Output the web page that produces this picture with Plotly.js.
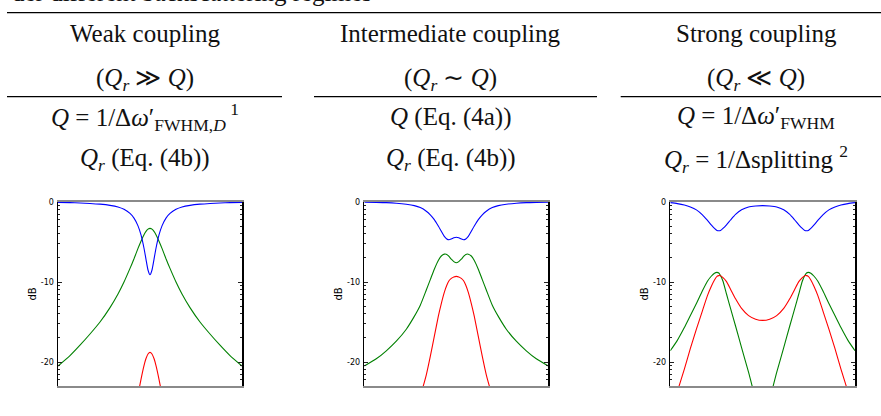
<!DOCTYPE html>
<html>
<head>
<meta charset="utf-8">
<script src="https://cdn.plot.ly/plotly-3.0.1.min.js"></script>
<style>html,body{margin:0;padding:0;background:#fff;}#chart{width:881px;height:416px;}</style>
</head>
<body>
<div id="chart"></div>
<script>
// ---------- Data (detuning in arbitrary units, power in dB) ----------
// Panel 1: weak coupling
const x1 = [-92,-80,-70,-60,-50,-40,-32,-26,-20,-16,-12,-9,-6,-4,-2,0,2,4,6,9,12,16,20,26,32,40,50,60,70,80,92];
const blue1 = [-0.05,-0.08,-0.12,-0.18,-0.27,-0.42,-0.63,-0.92,-1.43,-2.01,-2.98,-4.12,-5.78,-7.17,-8.5,-9.1,-8.5,-7.17,-5.78,-4.12,-2.98,-2.01,-1.43,-0.92,-0.63,-0.42,-0.27,-0.18,-0.12,-0.08,-0.05];
const green1 = [-20.5,-19.2,-17.9,-16.5,-15.0,-13.2,-11.5,-10.0,-8.3,-7.1,-5.8,-4.9,-4.08,-3.67,-3.39,-3.3,-3.39,-3.67,-4.08,-4.9,-5.8,-7.1,-8.3,-10.0,-11.5,-13.2,-15.0,-16.5,-17.9,-19.2,-20.5];
const red1 = [-52.8,-50.5,-48.2,-45.6,-42.7,-39,-35.7,-32.7,-29.2,-26.7,-24.1,-22.16,-20.45,-19.57,-19.0,-18.8,-19.0,-19.57,-20.45,-22.16,-24.1,-26.7,-29.2,-32.7,-35.7,-39,-42.7,-45.6,-48.2,-50.5,-52.8];

// Panel 2: intermediate coupling
const x2 = [-92,-80,-70,-60,-50,-42,-36,-30,-26,-22,-18,-15,-12,-9.5,-7.3,-5,-2.5,0,2.5,5,7.3,9.5,12,15,18,22,26,30,36,42,50,60,70,80,92];
const blue2 = [-0.03,-0.05,-0.08,-0.15,-0.28,-0.45,-0.7,-1.15,-1.6,-2.2,-3.0,-3.65,-4.3,-4.62,-4.72,-4.62,-4.47,-4.4,-4.47,-4.62,-4.72,-4.62,-4.3,-3.65,-3.0,-2.2,-1.6,-1.15,-0.7,-0.45,-0.28,-0.15,-0.08,-0.05,-0.03];
const green2 = [-20.5,-19.6,-18.6,-17.4,-15.9,-14.3,-12.9,-11.0,-9.7,-8.4,-7.3,-6.75,-6.52,-6.55,-6.8,-7.15,-7.45,-7.6,-7.45,-7.15,-6.8,-6.55,-6.52,-6.75,-7.3,-8.4,-9.7,-11.0,-12.9,-14.3,-15.9,-17.4,-18.6,-19.6,-20.5];
const red2 = [-41,-38.5,-36,-33,-30,-26.8,-24.3,-21.6,-19.3,-16.8,-14.3,-12.7,-11.3,-10.4,-9.85,-9.55,-9.37,-9.3,-9.37,-9.55,-9.85,-10.4,-11.3,-12.7,-14.3,-16.8,-19.3,-21.6,-24.3,-26.8,-30,-33,-36,-38.5,-41];

// Panel 3: strong coupling
const x3 = [-92,-85,-78,-72,-66,-60,-55,-51,-48,-45.5,-43.7,-42,-39.5,-36,-32,-27,-21,-14,-7,0,7,14,21,27,32,36,39.5,42,43.7,45.5,48,51,55,60,66,72,78,85,92];
const blue3 = [-0.08,-0.2,-0.38,-0.62,-0.98,-1.6,-2.3,-2.9,-3.3,-3.55,-3.6,-3.56,-3.3,-2.85,-2.25,-1.55,-0.98,-0.62,-0.5,-0.45,-0.5,-0.62,-0.98,-1.55,-2.25,-2.85,-3.3,-3.56,-3.6,-3.55,-3.3,-2.9,-2.3,-1.6,-0.98,-0.62,-0.38,-0.2,-0.08];
const green3 = [-18.6,-17.3,-15.7,-14.2,-12.7,-11.1,-9.9,-9.25,-8.9,-8.8,-8.88,-9.2,-9.9,-11.5,-13.3,-15.5,-18.2,-21.3,-24.5,-26,-24.5,-21.3,-18.2,-15.5,-13.3,-11.5,-9.9,-9.2,-8.88,-8.8,-8.9,-9.25,-9.9,-11.1,-12.7,-14.2,-15.7,-17.3,-18.6];
const red3 = [-26.5,-23.7,-20.9,-18.3,-15.9,-13.6,-11.7,-10.5,-9.75,-9.3,-9.2,-9.22,-9.45,-9.95,-10.9,-12.1,-13.3,-14.2,-14.65,-14.8,-14.65,-14.2,-13.3,-12.1,-10.9,-9.95,-9.45,-9.22,-9.2,-9.3,-9.75,-10.5,-11.7,-13.6,-15.9,-18.3,-20.9,-23.7,-26.5];

// Tick labels
const yTickVals = [0, -10, -20];
const yTickText = ['0', '-10', '-20'];

// Table text
const headers = ['Weak coupling', 'Intermediate coupling', 'Strong coupling'];
const regimes = ['(<i>Q</i><sub><i>r</i></sub> ≫ <i>Q</i>)', '(<i>Q</i><sub><i>r</i></sub> ∼ <i>Q</i>)', '(<i>Q</i><sub><i>r</i></sub> ≪ <i>Q</i>)'];
const qRow = ['<i>Q</i> = 1/Δ<i>ω</i>′<sub>FWHM,<i>D</i></sub><sup> 1</sup>', '<i>Q</i> (Eq. (4a))', '<i>Q</i> = 1/Δ<i>ω</i>′<sub>FWHM</sub>'];
const qrRow = ['<i>Q</i><sub><i>r</i></sub> (Eq. (4b))', '<i>Q</i><sub><i>r</i></sub> (Eq. (4b))', '<i>Q</i><sub><i>r</i></sub> = 1/Δsplitting <sup>2</sup>'];
const caption = 'der different backscattering regimes';

// ---------- Layout helpers ----------
const W = 881, H = 416;
const px = v => v / W;
const py = v => 1 - v / H;

// minor ticks at log positions (k x decade) expressed in dB
const minorVals = [];
[0, -10, -20].forEach(d => { for (let k = 2; k <= 9; k++) { const v = d - 10 + 10 * Math.log10(k); if (v >= -23) minorVals.push(v); } });

const colors = {blue: '#0000ff', green: '#008000', red: '#ff0000'};
function tr(x, y, c, n) {
  return {x: x, y: y, type: 'scatter', mode: 'lines', line: {color: c, width: 1.1, shape: 'spline', smoothing: 0.6},
          xaxis: 'x' + (n === 1 ? '' : n), yaxis: 'y' + (n === 1 ? '' : n), hoverinfo: 'skip', showlegend: false};
}
const data = [
  tr(x1, green1, colors.green, 1), tr(x1, red1, colors.red, 1), tr(x1, blue1, colors.blue, 1),
  tr(x2, green2, colors.green, 2), tr(x2, red2, colors.red, 2), tr(x2, blue2, colors.blue, 2),
  tr(x3, green3, colors.green, 3), tr(x3, red3, colors.red, 3), tr(x3, blue3, colors.blue, 3)
];

const xDomains = [[58, 242], [364.3, 548.3], [670.3, 855]];
const yDomain = [py(386), py(202)];

const layout = {
  width: W, height: H, margin: {l: 0, r: 0, t: 0, b: 0}, paper_bgcolor: '#fff', plot_bgcolor: '#fff',
  showlegend: false, shapes: [], annotations: []
};
xDomains.forEach((d, i) => {
  const s = i === 0 ? '' : String(i + 1);
  layout['xaxis' + s] = {domain: [px(d[0]), px(d[1])], anchor: 'y' + s, range: [-92, 92], showline: true, mirror: true,
    linecolor: '#8a8a8a', linewidth: 2, showticklabels: false, ticks: '', showgrid: false, zeroline: false, automargin: false};
  layout['yaxis' + s] = {domain: yDomain, anchor: 'x' + s, range: [-23, 0], tickmode: 'array', tickvals: yTickVals, ticktext: yTickText,
    ticks: 'inside', ticklen: 4, tickwidth: 1, tickcolor: '#222', showline: true, mirror: 'ticks', linecolor: '#000', linewidth: 1.5,
    showgrid: false, zeroline: false, automargin: false, ticklabelstandoff: 1,
    tickfont: {family: 'DejaVu Sans', size: 8, color: '#000'},
    minor: {tickmode: 'array', tickvals: minorVals, ticks: 'inside', ticklen: 2, tickwidth: 1, tickcolor: '#222', showgrid: false},
    title: {text: 'dB', font: {family: 'DejaVu Sans', size: 10, color: '#000'}, standoff: 2}};
});

// table rules
const lineStyle = {color: '#000', width: 1.3};
layout.shapes.push({type: 'line', xref: 'paper', yref: 'paper', x0: px(7), x1: 1, y0: py(12.7), y1: py(12.7), line: lineStyle});
[[7, 282], [314, 597], [620.7, 881]].forEach(s => {
  layout.shapes.push({type: 'line', xref: 'paper', yref: 'paper', x0: px(s[0]), x1: px(s[1]), y0: py(96.7), y1: py(96.7), line: lineStyle});
});

// table text
const colX = [145, 451, 756];
const rowY = [33.3, 79, 117, 159];
const serif = {family: 'Liberation Serif', size: 25, color: '#111'};
function ann(text, x, y) {
  layout.annotations.push({text: text, xref: 'paper', yref: 'paper', x: px(x), y: py(y), xanchor: 'center', yanchor: 'middle',
    showarrow: false, font: serif});
}
[headers, regimes, qRow, qrRow].forEach((row, r) => row.forEach((t, c) => ann(t, colX[c], rowY[r])));
layout.annotations.push({text: caption, xref: 'paper', yref: 'paper', x: px(10), y: py(-7), xanchor: 'left', yanchor: 'middle',
  showarrow: false, font: serif});

Plotly.newPlot('chart', data, layout, {staticPlot: true, displayModeBar: false});
</script>
</body>
</html>
